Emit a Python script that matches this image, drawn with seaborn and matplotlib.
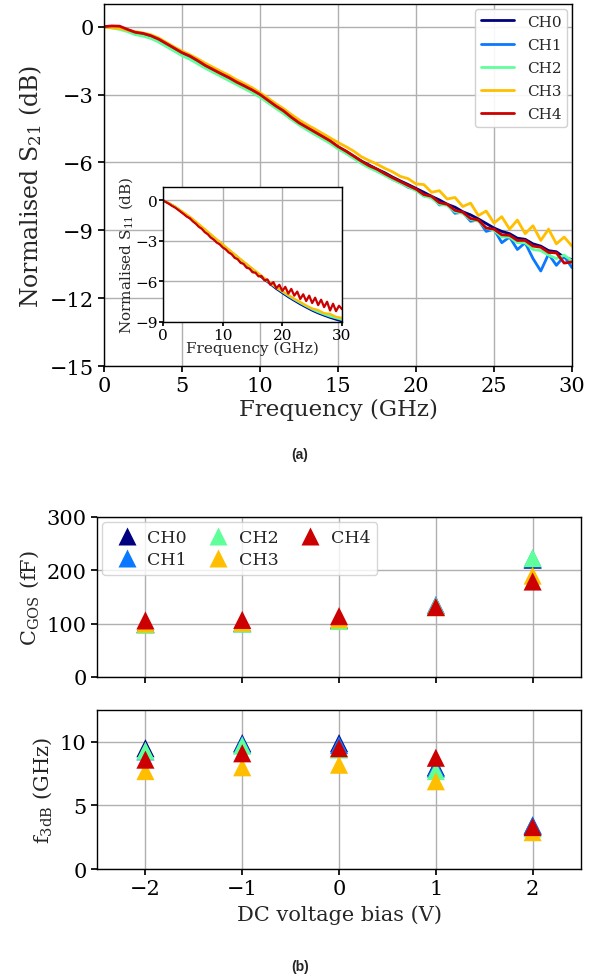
import numpy as np
import pandas as pd
import matplotlib
matplotlib.use("Agg")
import matplotlib.pyplot as plt
import seaborn as sns

# ---- data ----
channels = ["CH0", "CH1", "CH2", "CH3", "CH4"]
colors = ["#000080", "#0a78ff", "#5fff99", "#ffbf00", "#cc0000"]

# main panel: normalised S21 (dB), 0..30 GHz in 0.5 GHz steps
freq_s21 = [i * 0.5 for i in range(61)]
s21_ch0 = [0.00, 0.00, -0.05, -0.15, -0.27, -0.33, -0.43, -0.58, -0.78, -0.98,
           -1.18, -1.33, -1.53, -1.74, -1.92, -2.10, -2.28, -2.47, -2.64, -2.82,
           -3.02, -3.27, -3.52, -3.74, -4.02, -4.26, -4.47, -4.66, -4.86, -5.07,
           -5.32, -5.50, -5.72, -5.94, -6.12, -6.30, -6.46, -6.65, -6.82, -6.98,
           -7.15, -7.32, -7.50, -7.66, -7.85, -7.98, -8.18, -8.32, -8.50, -8.70,
           -8.90, -9.05, -9.15, -9.35, -9.40, -9.60, -9.70, -9.90, -9.95, -10.20,
           -10.30]
s21_ch1 = [0.00, -0.02, -0.08, -0.18, -0.30, -0.38, -0.48, -0.62, -0.82, -1.02,
           -1.22, -1.38, -1.58, -1.78, -1.96, -2.14, -2.32, -2.50, -2.68, -2.86,
           -3.05, -3.30, -3.55, -3.78, -4.04, -4.28, -4.50, -4.70, -4.88, -5.10,
           -5.36, -5.55, -5.76, -6.00, -6.18, -6.38, -6.52, -6.75, -6.90, -7.10,
           -7.20, -7.48, -7.50, -7.88, -7.85, -8.25, -8.20, -8.60, -8.55, -9.05,
           -8.95, -9.55, -9.30, -9.85, -9.55, -10.25, -10.80, -10.05, -10.55, -10.15,
           -10.65]
s21_ch2 = [-0.02, -0.06, -0.12, -0.22, -0.35, -0.42, -0.52, -0.68, -0.88, -1.08,
           -1.28, -1.44, -1.64, -1.84, -2.02, -2.20, -2.38, -2.56, -2.74, -2.92,
           -3.12, -3.36, -3.60, -3.84, -4.10, -4.34, -4.56, -4.76, -4.96, -5.16,
           -5.40, -5.60, -5.82, -6.05, -6.24, -6.40, -6.58, -6.76, -6.92, -7.08,
           -7.25, -7.48, -7.58, -7.85, -7.90, -8.18, -8.25, -8.52, -8.60, -8.90,
           -9.00, -9.30, -9.30, -9.55, -9.55, -9.85, -9.90, -10.10, -10.25, -10.10,
           -10.35]
s21_ch3 = [-0.02, -0.05, -0.08, -0.15, -0.22, -0.28, -0.36, -0.50, -0.70, -0.90,
           -1.08, -1.24, -1.42, -1.62, -1.80, -1.98, -2.15, -2.35, -2.52, -2.70,
           -2.92, -3.15, -3.40, -3.62, -3.88, -4.12, -4.33, -4.52, -4.72, -4.92,
           -5.12, -5.30, -5.50, -5.75, -5.92, -6.08, -6.26, -6.42, -6.62, -6.72,
           -6.95, -6.98, -7.32, -7.25, -7.62, -7.55, -7.95, -7.80, -8.35, -8.15,
           -8.68, -8.40, -8.95, -8.55, -9.15, -8.80, -9.45, -8.95, -9.60, -9.30,
           -9.70]
s21_ch4 = [0.00, 0.03, 0.02, -0.12, -0.25, -0.30, -0.40, -0.55, -0.75, -0.95,
           -1.15, -1.30, -1.50, -1.72, -1.90, -2.08, -2.25, -2.45, -2.62, -2.80,
           -3.00, -3.25, -3.50, -3.72, -4.00, -4.25, -4.45, -4.65, -4.85, -5.05,
           -5.30, -5.50, -5.72, -5.95, -6.15, -6.30, -6.50, -6.68, -6.85, -7.02,
           -7.18, -7.42, -7.50, -7.78, -7.85, -8.12, -8.20, -8.48, -8.55, -8.90,
           -8.95, -9.20, -9.22, -9.45, -9.45, -9.70, -9.75, -9.98, -10.00, -10.45,
           -10.40]

# inset: normalised S11 (dB)
freq_s11 = list(range(31))
s11_ch0 = [0.00, -0.22, -0.48, -0.80, -1.13, -1.48, -1.85, -2.22, -2.60, -2.98,
           -3.35, -3.72, -4.08, -4.45, -4.80, -5.15, -5.50, -5.85, -6.20, -6.55,
           -6.85, -7.15, -7.42, -7.68, -7.92, -8.15, -8.35, -8.52, -8.68, -8.82,
           -8.95]
s11_ch1 = [0.00, -0.21, -0.47, -0.78, -1.10, -1.45, -1.82, -2.18, -2.56, -2.94,
           -3.30, -3.67, -4.03, -4.40, -4.75, -5.10, -5.45, -5.80, -6.15, -6.48,
           -6.78, -7.08, -7.35, -7.60, -7.85, -8.08, -8.28, -8.45, -8.60, -8.72,
           -8.85]
s11_ch2 = [0.00, -0.21, -0.46, -0.77, -1.09, -1.44, -1.80, -2.17, -2.55, -2.92,
           -3.28, -3.65, -4.01, -4.38, -4.73, -5.08, -5.43, -5.78, -6.12, -6.45,
           -6.75, -7.05, -7.32, -7.58, -7.82, -8.05, -8.25, -8.42, -8.58, -8.70,
           -8.82]
s11_ch3 = [0.00, -0.20, -0.45, -0.75, -1.05, -1.38, -1.75, -2.12, -2.50, -2.88,
           -3.25, -3.62, -3.98, -4.35, -4.70, -5.05, -5.40, -5.75, -6.10, -6.42,
           -6.72, -7.00, -7.28, -7.52, -7.78, -8.00, -8.12, -8.35, -8.40, -8.62,
           -8.70]
freq_s11_ch4 = [i * 0.5 for i in range(61)]
s11_ch4 = [0.00, -0.12, -0.25, -0.40, -0.52, -0.68, -0.85, -1.02, -1.20, -1.32,
           -1.55, -1.72, -1.95, -2.10, -2.35, -2.50, -2.75, -2.90, -3.12, -3.25,
           -3.48, -3.62, -3.85, -3.98, -4.25, -4.35, -4.62, -4.70, -4.98, -5.05,
           -5.32, -5.35, -5.62, -5.60, -5.92, -5.85, -6.25, -6.05, -6.50, -6.25,
           -6.70, -6.40, -6.90, -6.55, -7.05, -6.75, -7.30, -6.95, -7.45, -7.05,
           -7.60, -7.20, -7.75, -7.35, -7.90, -7.50, -8.15, -7.65, -8.20, -7.80,
           -8.05]

# panel (b): vs DC bias
bias = [-2, -1, 0, 1, 2]
cgos_ch0 = [100, 101, 107, 132, 220]
cgos_ch1 = [99, 101, 106, 135, 222]
cgos_ch2 = [98, 100, 105, 133, 223]
cgos_ch3 = [100, 102, 108, 131, 190]
cgos_ch4 = [106, 107, 114, 131, 179]

f3db_ch0 = [9.5, 9.9, 9.9, 8.0, 3.4]
f3db_ch1 = [9.25, 9.8, 9.75, 7.9, 3.45]
f3db_ch2 = [9.3, 9.7, 9.4, 7.7, 3.2]
f3db_ch3 = [7.7, 8.0, 8.2, 6.9, 2.9]
f3db_ch4 = [8.6, 9.1, 9.5, 8.75, 3.3]


# ---- long tables for seaborn ----
def long_table(series):
    rows = []
    for ch, (xs, ys) in zip(channels, series):
        for a, b in zip(xs, ys):
            rows.append({"x": a, "y": b, "channel": ch})
    return pd.DataFrame(rows)


df_s21 = long_table([(freq_s21, s) for s in
                     [s21_ch0, s21_ch1, s21_ch2, s21_ch3, s21_ch4]])
df_s11 = long_table([(freq_s11, s11_ch0), (freq_s11, s11_ch1),
                     (freq_s11, s11_ch2), (freq_s11, s11_ch3),
                     (freq_s11_ch4, s11_ch4)])
df_cgos = long_table([(bias, c) for c in
                      [cgos_ch0, cgos_ch1, cgos_ch2, cgos_ch3, cgos_ch4]])
df_f3db = long_table([(bias, c) for c in
                      [f3db_ch0, f3db_ch1, f3db_ch2, f3db_ch3, f3db_ch4]])

palette = dict(zip(channels, colors))

sns.set_theme(style="ticks")
plt.rcParams["font.family"] = ["DejaVu Serif"]
plt.rcParams["mathtext.fontset"] = "dejavuserif"
plt.rcParams["axes.grid"] = True
plt.rcParams["grid.color"] = "#b0b0b0"
plt.rcParams["grid.linewidth"] = 1.0
plt.rcParams["axes.edgecolor"] = "black"
plt.rcParams["axes.linewidth"] = 1.0
plt.rcParams["xtick.color"] = "black"
plt.rcParams["ytick.color"] = "black"
plt.rcParams["xtick.major.size"] = 4
plt.rcParams["ytick.major.size"] = 4

fig = plt.figure(figsize=(6, 9.79), dpi=100)

# ---- (a) main ----
ax = fig.add_axes([0.1733, 0.6251, 0.78, 0.3698])
sns.lineplot(data=df_s21, x="x", y="y", hue="channel", hue_order=channels,
             palette=palette, estimator=None, sort=False, lw=2.0, ax=ax)
ax.set_xlim(0, 30)
ax.set_ylim(-15, 1)
ax.set_yticks([0, -3, -6, -9, -12, -15])
ax.set_xticks([0, 5, 10, 15, 20, 25, 30])
ax.tick_params(labelsize=15)
ax.set_xlabel("Frequency (GHz)", fontsize=16.5, labelpad=2)
ax.set_ylabel("Normalised S$_{21}$ (dB)", fontsize=17, labelpad=4)
ax.legend(loc="upper right", fontsize=11, handlelength=2.2, framealpha=0.9,
          borderaxespad=0.3, labelspacing=0.6)

# inset
axi = fig.add_axes([0.2717, 0.6701, 0.2983, 0.1379])
sns.lineplot(data=df_s11, x="x", y="y", hue="channel", hue_order=channels,
             palette=palette, estimator=None, sort=False, lw=1.6, ax=axi,
             legend=False)
axi.set_xlim(0, 30)
axi.set_ylim(-9, 1)
axi.set_xticks([0, 10, 20, 30])
axi.set_yticks([0, -3, -6, -9])
axi.tick_params(labelsize=11, pad=1, length=3)
axi.set_xlabel("Frequency (GHz)", fontsize=11, labelpad=-1)
axi.set_ylabel("Normalised S$_{11}$ (dB)", fontsize=11, labelpad=0)

fig.text(0.5, 0.531, "(a)", fontsize=10, fontweight="bold",
         family=["Liberation Sans"], ha="center")

# ---- (b) C_GOS ----
ax2 = fig.add_axes([0.1617, 0.3075, 0.8067, 0.1634])
sns.scatterplot(data=df_cgos, x="x", y="y", hue="channel", hue_order=channels,
                palette=palette, marker="^", s=170, edgecolor="none", ax=ax2)
ax2.set_xlim(-2.5, 2.5)
ax2.set_ylim(0, 300)
ax2.set_yticks([0, 100, 200, 300])
ax2.set_xticks(bias)
ax2.set_xticklabels([])
ax2.set_xlabel("")
ax2.tick_params(labelsize=15)
ax2.set_ylabel("C$_{\\mathrm{GOS}}$ (fF)", fontsize=15)
ax2.legend(loc="upper left", ncol=3, fontsize=12.5, handletextpad=0.2,
           columnspacing=0.8, borderaxespad=0.3, labelspacing=0.3)

# ---- (b) f3dB ----
ax3 = fig.add_axes([0.1617, 0.1113, 0.8067, 0.1624])
sns.scatterplot(data=df_f3db, x="x", y="y", hue="channel", hue_order=channels,
                palette=palette, marker="^", s=170, edgecolor="none", ax=ax3,
                legend=False)
ax3.set_xlim(-2.5, 2.5)
ax3.set_ylim(0, 12.5)
ax3.set_yticks([0, 5, 10])
ax3.set_xticks(bias)
ax3.tick_params(labelsize=15)
ax3.set_xlabel("DC voltage bias (V)", fontsize=15)
ax3.set_ylabel("f$_{\\mathrm{3dB}}$ (GHz)", fontsize=15)

fig.text(0.5, 0.008, "(b)", fontsize=10, fontweight="bold",
         family=["Liberation Sans"], ha="center")

fig.savefig("out.png", dpi=100)
